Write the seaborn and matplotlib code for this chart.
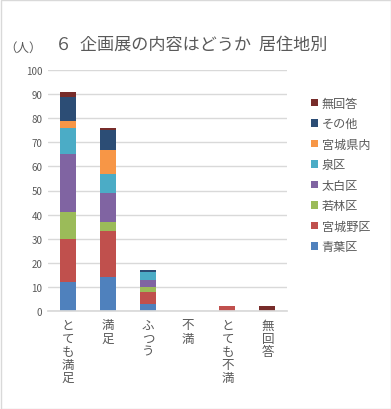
import matplotlib
matplotlib.use("Agg")
import matplotlib.pyplot as plt
import seaborn as sns
import numpy as np
import pandas as pd
from matplotlib.patches import Patch, Rectangle

sns.set_theme(style="white")
plt.rcParams['font.family'] = ['Noto Sans CJK JP', 'DejaVu Sans']

categories = ["とても満足", "満足", "ふつう", "不満", "とても不満", "無回答"]
series_names = ["青葉区", "宮城野区", "若林区", "太白区", "泉区", "宮城県内", "その他", "無回答"]
aoba      = [12, 14, 3, 0, 0, 0]
miyagino  = [18, 19, 5, 0, 2, 0]
wakabayashi = [11, 4, 2, 0, 0, 0]
taihaku   = [24, 12, 3, 0, 0, 0]
izumi     = [11, 8, 3, 0, 0, 0]
kennai    = [3, 10, 0, 0, 0, 0]
sonota    = [10, 8, 1, 0, 0, 0]
mukaito   = [2, 1, 0, 0, 0, 2]
series_values = [aoba, miyagino, wakabayashi, taihaku, izumi, kennai, sonota, mukaito]
colors = ["#4F81BD", "#C0504D", "#9BBB59", "#8064A2", "#4BACC6", "#F79646", "#2C4D75", "#772C2A"]
yticks = list(range(0, 101, 10))

fig = plt.figure(figsize=(3.91, 4.10), dpi=100)
fig.patch.set_facecolor("white")
ax = fig.add_axes([48/391, 1-312/410, 239/391, 241/410])

bottom = np.zeros(len(categories))
for name, vals, col in zip(series_names, series_values, colors):
    df = pd.DataFrame({"cat": categories, "v": vals})
    sns.barplot(data=df, x="cat", y="v", color=col, width=0.4, bottom=bottom,
                ax=ax, saturation=1, linewidth=0, order=categories)
    bottom = bottom + np.array(vals)

ax.set_ylim(0, 100)
ax.set_xlim(-0.5, 5.5)
ax.set_yticks(yticks)
ax.set_yticklabels([str(t) for t in yticks], fontsize=7, color="#595959")
ax.yaxis.grid(True, color="#D9D9D9", linewidth=1)
ax.set_axisbelow(True)
for s in ["top", "right", "left"]:
    ax.spines[s].set_visible(False)
ax.spines["bottom"].set_color("#D9D9D9")
ax.tick_params(axis="both", length=0, pad=4)
ax.set_xticks(range(len(categories)))
ax.set_xticklabels([""] * len(categories))
ax.set_xlabel("")
ax.set_ylabel("")

# vertical (tategaki-style) category labels, one character per row
char_step = 13.2 / 410
for i, cat in enumerate(categories):
    xf = (48 + 40 * i + 20) / 391
    for j, ch in enumerate(cat):
        fig.text(xf, 1 - 326/410 - j * char_step, ch, fontsize=9, color="#595959",
                 ha="center", va="center")

fig.text(55/391, 1-45/410, "６  企画展の内容はどうか  居住地別", fontsize=12.3, color="#595959", va="center", ha="left")
fig.text(4/391, 1-48/410, "（人）", fontsize=9, color="#595959", va="center", ha="left")

handles = [Patch(facecolor=c, edgecolor="none") for c in colors][::-1]
labels = series_names[::-1]
fig.legend(handles, labels, loc="upper left", bbox_to_anchor=(300/391, 1-87/410),
           frameon=False, fontsize=8.7, handlelength=0.6, handleheight=0.6,
           handletextpad=0.3, labelspacing=0.62, labelcolor="#595959")

fig.patches.append(Rectangle((0.5/391, 0.5/410), 1-1/391, 1-1/410, transform=fig.transFigure,
                             fill=False, edgecolor="#D9D9D9", linewidth=1))

fig.savefig("out.png", dpi=100, facecolor="white")
